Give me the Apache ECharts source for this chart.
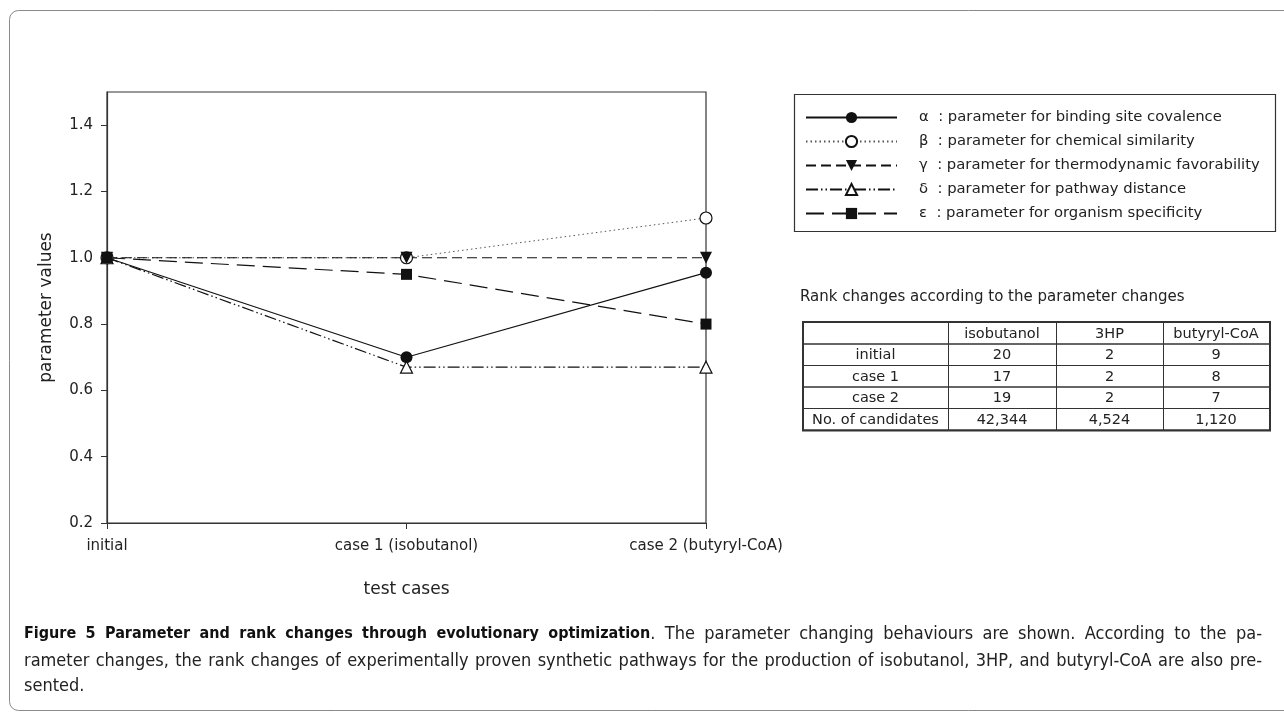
<!DOCTYPE html>
<html>
<head>
<meta charset="utf-8">
<script src="https://cdn.jsdelivr.net/npm/echarts@6/dist/echarts.min.js"></script>
<style>
html,body{margin:0;padding:0;background:#fff;}
#chart{width:1284px;height:713px;}
</style>
</head>
<body>
<div id="chart"></div>
<script>
// ---- data ----
const categories = ['initial', 'case 1 (isobutanol)', 'case 2 (butyryl-CoA)'];
const alphaValues = [1.0, 0.70, 0.955];
const betaValues = [1.0, 1.0, 1.12];
const gammaValues = [1.0, 1.0, 1.0];
const deltaValues = [1.0, 0.67, 0.67];
const epsilonValues = [1.0, 0.95, 0.80];
const seriesNames = [
  'α  : parameter for binding site covalence',
  'β  : parameter for chemical similarity',
  'γ  : parameter for thermodynamic favorability',
  'δ  : parameter for pathway distance',
  'ε  : parameter for organism specificity'
];
const yMin = 0.2, yMax = 1.5, yInterval = 0.2;
const tableTitle = 'Rank changes according to the parameter changes';
const tableHeader = ['', 'isobutanol', '3HP', 'butyryl-CoA'];
const tableRowLabels = ['initial', 'case 1', 'case 2', 'No. of candidates'];
const rankIsobutanol = ['20', '17', '19', '42,344'];
const rank3HP = ['2', '2', '2', '4,524'];
const rankButyryl = ['9', '8', '7', '1,120'];
const captionBold = 'Figure 5 Parameter and rank changes through evolutionary optimization';
const captionLine1 = '. The parameter changing behaviours are shown. According to the pa-';
const captionLine2 = 'rameter changes, the rank changes of experimentally proven synthetic pathways for the production of isobutanol, 3HP, and butyryl-CoA are also pre-';
const captionLine3 = 'sented.';

// ---- layout ----
const FONT = "'DejaVu Sans', Verdana, sans-serif";
const CAPFONT = "'DejaVu Sans Condensed', 'Noto Sans', sans-serif";
const chart = echarts.init(document.getElementById('chart'));

const measureCtx = document.createElement('canvas').getContext('2d');
function textWidth(t, font) { measureCtx.font = font; return measureCtx.measureText(t).width; }

// place a justified caption line made of [text, font, color] pieces
function justifiedLine(pieces, x0, x1, y, out) {
  const words = [];
  pieces.forEach(([txt, font, color], pi) => {
    const parts = txt.split(' ');
    parts.forEach((w, i) => {
      if (w === '') return;
      const joinPrev = (i === 0 && pi > 0 && !txt.startsWith(' '));
      words.push({w, font, color, joinPrev});
    });
  });
  let total = 0, gaps = 0;
  words.forEach((o, i) => { o.width = textWidth(o.w, o.font); total += o.width; if (i > 0 && !o.joinPrev) gaps++; });
  const gap = gaps ? (x1 - x0 - total) / gaps : 0;
  let x = x0;
  words.forEach((o, i) => {
    if (i > 0 && !o.joinPrev) x += gap;
    out.push({type:'text', x:x, y:y, style:{text:o.w, font:o.font, fill:o.color, verticalAlign:'middle'}});
    x += o.width;
  });
}

const colX = [803, 948, 1056, 1163, 1269];
const rowY = [322, 343.5, 365, 386.5, 408, 429.5];
const graphics = [];
// outer frame
graphics.push({type:'rect', shape:{x:9.5, y:10.5, width:1300, height:700, r:9}, style:{fill:'none', stroke:'#8a8a8a', lineWidth:1}, silent:true});
// legend box
graphics.push({type:'rect', shape:{x:794.5, y:94.5, width:481, height:137}, style:{fill:'none', stroke:'#333', lineWidth:1.2}, silent:true});
// table title
graphics.push({type:'text', x:800, y:297, style:{text:tableTitle, font:'15px ' + FONT, fill:'#222', verticalAlign:'middle'}});
// table cells
const tableBody = [tableHeader].concat(tableRowLabels.map((l, i) => [l, rankIsobutanol[i], rank3HP[i], rankButyryl[i]]));
for (let r = 0; r < tableBody.length; r++) {
  for (let c = 0; c < 4; c++) {
    graphics.push({type:'rect', shape:{x:colX[c]+0.5, y:rowY[r]+0.5, width:colX[c+1]-colX[c], height:rowY[r+1]-rowY[r]}, style:{fill:'none', stroke:'#333', lineWidth:1}, silent:true});
    if (tableBody[r][c]) {
      graphics.push({type:'text', x:(colX[c]+colX[c+1])/2, y:(rowY[r]+rowY[r+1])/2 + 1, style:{text:tableBody[r][c], font:'14.5px ' + FONT, fill:'#222', align:'center', verticalAlign:'middle'}});
    }
  }
}
graphics.push({type:'rect', shape:{x:colX[0], y:rowY[0], width:colX[4]-colX[0]+1, height:rowY[5]-rowY[0]+1}, style:{fill:'none', stroke:'#333', lineWidth:2}, silent:true});
// caption (justified)
const capBold = 'bold 16px ' + CAPFONT;
const capReg = '18px ' + CAPFONT;
justifiedLine([[captionBold, capBold, '#111'], [captionLine1, capReg, '#222']], 24, 1262, 634, graphics);
justifiedLine([[captionLine2, capReg, '#222']], 24, 1262, 661, graphics);
graphics.push({type:'text', x:24, y:686, style:{text:captionLine3, font:capReg, fill:'#222', verticalAlign:'middle'}});

const baseLine = {color:'#111', width:1.2};
const series = [
  {name:seriesNames[0], data:alphaValues, symbol:'circle', symbolSize:12,
   lineStyle:Object.assign({}, baseLine, {type:'solid'}), itemStyle:{color:'#111'}},
  {name:seriesNames[1], data:betaValues, symbol:'circle', symbolSize:12,
   lineStyle:Object.assign({}, baseLine, {type:[1.5,3], width:1, color:'#555'}), itemStyle:{color:'#fff', borderColor:'#111', borderWidth:1.2}},
  {name:seriesNames[2], data:gammaValues, symbol:'triangle', symbolRotate:180, symbolSize:12,
   lineStyle:Object.assign({}, baseLine, {type:[10,5]}), itemStyle:{color:'#111'}},
  {name:seriesNames[3], data:deltaValues, symbol:'triangle', symbolSize:12,
   lineStyle:Object.assign({}, baseLine, {type:[12,3,1.5,3,1.5,3]}), itemStyle:{color:'#fff', borderColor:'#111', borderWidth:1.2}},
  {name:seriesNames[4], data:epsilonValues, symbol:'rect', symbolSize:11,
   lineStyle:Object.assign({}, baseLine, {type:[18,8]}), itemStyle:{color:'#111'}}
].map(s => Object.assign({type:'line', showAllSymbol:true, animation:false, z:3}, s));

chart.setOption({
  backgroundColor:'#fff',
  animation:false,
  grid:{left:107, right:578, top:92, bottom:190, show:true, borderColor:'#333', borderWidth:1.2, backgroundColor:'transparent'},
  legend:{
    orient:'vertical', left:800, top:105, itemWidth:91, itemHeight:14, itemGap:9,
    textStyle:{fontFamily:FONT, fontSize:14.8, color:'#222', padding:[0,0,0,17]},
    data:seriesNames, selectedMode:false
  },
  xAxis:{
    type:'category', data:categories, boundaryGap:false,
    name:'test cases', nameLocation:'middle', nameGap:58,
    nameTextStyle:{fontFamily:FONT, fontSize:17, color:'#222'},
    axisLine:{lineStyle:{color:'#333', width:1.2}},
    axisTick:{show:true, alignWithLabel:true, length:6, inside:false, lineStyle:{color:'#333'}},
    axisLabel:{fontFamily:FONT, fontSize:15, color:'#222', margin:16, interval:0},
    splitLine:{show:false}
  },
  yAxis:{
    type:'value', min:yMin, max:yMax, interval:yInterval,
    name:'parameter values', nameLocation:'middle', nameGap:52, nameRotate:90,
    nameTextStyle:{fontFamily:FONT, fontSize:17, color:'#222'},
    axisLine:{show:true, lineStyle:{color:'#333', width:1.2}},
    axisTick:{show:true, length:6, lineStyle:{color:'#333'}},
    axisLabel:{fontFamily:FONT, fontSize:15, color:'#222', margin:14, showMaxLabel:false,
      formatter:v => v > 1.45 ? '' : v.toFixed(1)},
    splitLine:{show:false}
  },
  series:series,
  graphic:graphics
});
</script>
</body>
</html>
